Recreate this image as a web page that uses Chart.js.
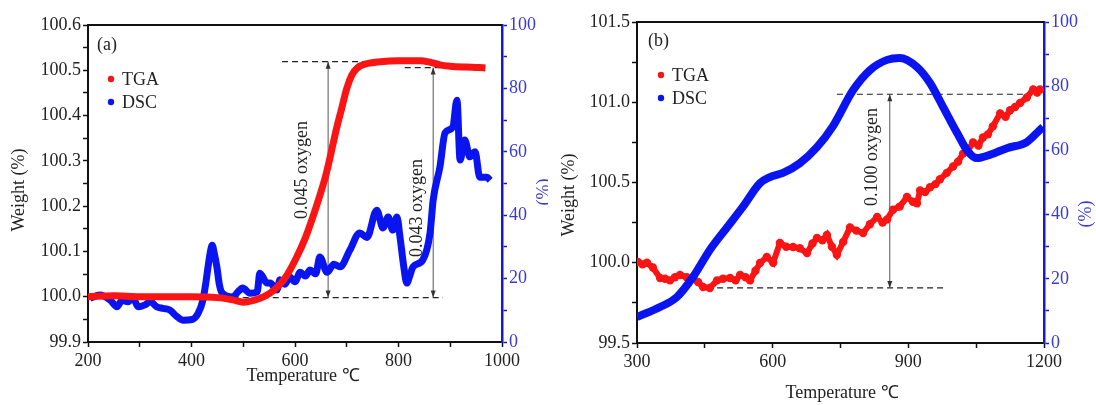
<!DOCTYPE html>
<html>
<head>
<meta charset="utf-8">
<script src="https://cdn.jsdelivr.net/npm/chart.js@4.4.0/dist/chart.umd.min.js"></script>
<style>
  body { margin: 0; background: #fff; }
  .panel { position: absolute; top: 0; width: 548px; height: 405px; }
</style>
</head>
<body>
<div class="panel" style="left:0"><canvas id="chartA" width="548" height="405"></canvas></div>
<div class="panel" style="left:548px"><canvas id="chartB" width="548" height="405"></canvas></div>
<script>
// panel (a) - TGA weight (%) vs temperature
var tempA_tga = [200, 250, 300, 350, 400, 450, 480, 500, 520, 540, 560, 580, 600, 620, 640, 660, 680, 690, 700, 710, 720, 740, 765, 800, 842, 860, 880, 900, 930, 955, 968];
var weightA = [100.0, 100.002, 100.0, 100.0, 100.0, 99.998, 99.993, 99.988, 99.992, 100.0, 100.015, 100.04, 100.08, 100.13, 100.195, 100.27, 100.37, 100.415, 100.46, 100.49, 100.505, 100.515, 100.519, 100.521, 100.521, 100.518, 100.512, 100.509, 100.507, 100.506, 100.505];

// panel (a) - DSC (%)
var tempA_dsc = [204, 223, 243, 256, 266, 277, 287, 297, 310, 320, 333, 345, 358, 372, 384, 401, 413, 422, 428, 432, 436, 440, 444, 449, 454, 459, 480, 490, 499, 513, 527, 532, 546, 552, 565, 571, 580, 590, 600, 610, 620, 629, 640, 648, 662, 675, 687, 706, 725, 739, 758, 770, 780, 789, 797, 803, 810, 816, 822, 828, 847, 861, 867, 880, 890, 905, 913, 919, 928, 938, 948, 957, 971, 977];
var dscA = [13.8, 14.8, 13.2, 11.1, 13.2, 12.7, 13.8, 11.1, 11.7, 12.7, 11.1, 10.6, 10.1, 8.0, 6.9, 7.1, 9.1, 13.2, 19.0, 23.7, 28.0, 30.5, 28.0, 23.7, 18.0, 15.5, 14.2, 15.9, 17.0, 15.4, 15.8, 21.7, 18.6, 18.6, 16.4, 19.6, 18.2, 20.5, 19.0, 22.0, 20.8, 22.7, 21.5, 26.8, 22.0, 24.5, 23.7, 29.0, 34.4, 33.0, 41.6, 36.0, 39.4, 35.3, 39.4, 33.0, 24.0, 18.6, 21.0, 23.7, 25.9, 34.4, 44.8, 55.2, 66.0, 67.8, 76.3, 57.4, 63.7, 58.4, 60.0, 52.0, 52.0, 51.0];

// panel (b) - TGA weight (%)
var tempB_tga = [302, 312, 322, 335, 351, 362, 373, 384, 395, 410, 424, 435, 446, 461, 477, 490, 506, 518, 528, 540, 550, 562, 572, 587, 601, 616, 630, 645, 660, 676, 688, 698, 710, 720, 731, 742, 756, 771, 785, 800, 815, 831, 843, 853, 866, 881, 897, 910, 919, 926, 937, 948, 960, 970, 985, 999, 1010, 1021, 1032, 1043, 1055, 1065, 1076, 1087, 1103, 1115, 1125, 1136, 1147, 1162, 1176, 1185, 1191];
var weightB = [100.005, 99.99, 100.0, 99.97, 99.905, 99.9, 99.89, 99.91, 99.924, 99.91, 99.905, 99.88, 99.849, 99.843, 99.89, 99.9, 99.905, 99.89, 99.924, 99.91, 99.89, 99.95, 99.998, 100.036, 100.0, 100.123, 100.1, 100.098, 100.09, 100.06, 100.12, 100.154, 100.14, 100.173, 100.1, 100.05, 100.13, 100.22, 100.2, 100.185, 100.24, 100.285, 100.25, 100.27, 100.33, 100.35, 100.41, 100.38, 100.37, 100.45, 100.44, 100.47, 100.49, 100.52, 100.56, 100.6, 100.63, 100.68, 100.7, 100.75, 100.73, 100.78, 100.8, 100.85, 100.93, 100.91, 100.95, 100.97, 100.995, 101.03, 101.08, 101.06, 101.08];

// panel (b) - DSC (%)
var tempB_dsc = [300, 351, 388, 424, 461, 499, 534, 572, 594, 623, 660, 698, 733, 778, 815, 853, 881, 919, 948, 977, 1008, 1030, 1052, 1080, 1118, 1162, 1191, 1198];
var dscB = [8.1, 11.2, 14.3, 20.6, 29.0, 36.0, 42.4, 49.8, 51.7, 53.0, 56.0, 61.0, 67.5, 78.8, 85.0, 88.2, 88.8, 86.0, 81.0, 73.5, 65.4, 60.0, 57.6, 58.6, 60.7, 62.6, 66.4, 67.3];

var RED = '#fa1414';
var BLUE = '#0a14f0';
var AXBLUE = '#1818d0';
var SERIF = "'Liberation Serif', 'Times New Roman', serif";

function pts(xs, ys) {
    return xs.map(function (v, i) { return { x: v, y: ys[i] }; });
}

var decor = {
    id: 'decor',
    beforeDatasetsDraw: function (chart, args, o) {
        var ctx = chart.ctx, x = chart.scales.x, y = chart.scales.y;
        ctx.save();
        ctx.strokeStyle = '#222';
        ctx.lineWidth = 1.2;
        ctx.setLineDash([6, 4]);
        o.dashed.forEach(function (d) {
            var py = y.getPixelForValue(d.y);
            ctx.beginPath();
            ctx.moveTo(x.getPixelForValue(d.x0), py);
            ctx.lineTo(x.getPixelForValue(d.x1), py);
            ctx.stroke();
        });
        ctx.setLineDash([]);
        ctx.strokeStyle = '#555';
        ctx.fillStyle = '#333';
        ctx.lineWidth = 1;
        o.arrows.forEach(function (a) {
            var px = x.getPixelForValue(a.x), p0 = y.getPixelForValue(a.y0), p1 = y.getPixelForValue(a.y1);
            ctx.beginPath();
            ctx.moveTo(px, p0);
            ctx.lineTo(px, p1);
            ctx.stroke();
            ctx.beginPath();
            ctx.moveTo(px, p0); ctx.lineTo(px - 2.5, p0 + 7); ctx.lineTo(px + 2.5, p0 + 7);
            ctx.closePath(); ctx.fill();
            ctx.beginPath();
            ctx.moveTo(px, p1); ctx.lineTo(px - 2.5, p1 - 7); ctx.lineTo(px + 2.5, p1 - 7);
            ctx.closePath(); ctx.fill();
        });
        ctx.restore();
    },
    afterDatasetsDraw: function (chart, args, o) {
        var ctx = chart.ctx, x = chart.scales.x, y = chart.scales.y, a = chart.chartArea;
        ctx.save();
        ctx.fillStyle = '#222';
        ctx.font = '18px ' + SERIF;
        ctx.textAlign = 'center';
        ctx.textBaseline = 'middle';
        o.notes.forEach(function (n) {
            ctx.save();
            ctx.translate(x.getPixelForValue(n.x), y.getPixelForValue(n.y));
            ctx.rotate(-Math.PI / 2);
            ctx.fillText(n.text, 0, 0);
            ctx.restore();
        });
        // top frame line
        ctx.strokeStyle = '#111';
        ctx.lineWidth = 2;
        ctx.beginPath();
        ctx.moveTo(a.left, a.top);
        ctx.lineTo(a.right, a.top);
        ctx.stroke();
        // panel tag and legend
        ctx.textAlign = 'left';
        ctx.fillText(o.tag, o.tagPos[0], o.tagPos[1]);
        o.legend.forEach(function (l, i) {
            var ly = o.legendPos[1] + i * 23;
            ctx.fillStyle = l.color;
            ctx.beginPath();
            ctx.arc(o.legendPos[0], ly, 3.2, 0, Math.PI * 2);
            ctx.fill();
            ctx.fillStyle = '#222';
            ctx.fillText(l.text, o.legendPos[0] + 11, ly + 1);
        });
        // axis titles
        ctx.textAlign = 'center';
        ctx.fillText('Temperature \u2103', o.xTitle[0], o.xTitle[1]);
        ctx.save();
        ctx.translate(o.yTitle[0], o.yTitle[1]);
        ctx.rotate(-Math.PI / 2);
        ctx.fillText('Weight (%)', 0, 0);
        ctx.restore();
        ctx.save();
        ctx.fillStyle = '#3a3ad0';
        ctx.translate(o.y2Title[0], o.y2Title[1]);
        ctx.rotate(-Math.PI / 2);
        ctx.fillText('(%)', 0, 0);
        ctx.restore();
        ctx.restore();
    }
};

function makeChart(id, cfg) {
    var tickFont = { family: SERIF, size: 18 };
    return new Chart(document.getElementById(id).getContext('2d'), {
        type: 'scatter',
        data: { datasets: cfg.datasets },
        options: {
            responsive: false,
            animation: false,
            layout: { padding: { top: cfg.top, left: 0, right: 0, bottom: 0 } },
            plugins: { legend: { display: false }, tooltip: { enabled: false }, decor: cfg.decor },
            scales: {
                x: {
                    type: 'linear', min: cfg.xMin, max: cfg.xMax,
                    afterFit: function (s) { s.height = cfg.xHeight; },
                    ticks: {
                        stepSize: cfg.xStep / 2, autoSkip: false, maxRotation: 0, padding: 3,
                        color: '#222', font: tickFont,
                        callback: function (v) { return (v - cfg.xMin) % cfg.xStep === 0 ? v : ''; }
                    },
                    grid: { drawOnChartArea: false, tickLength: 5, tickColor: '#111', tickWidth: 1.5 },
                    border: { color: '#111', width: 2 }
                },
                y: {
                    type: 'linear', position: 'left', min: cfg.yMin, max: cfg.yMax,
                    afterFit: function (s) { s.width = cfg.yWidth; },
                    ticks: {
                        stepSize: cfg.yStep / 2, autoSkip: false, padding: 2,
                        color: '#222', font: tickFont,
                        callback: function (v) {
                            var k = (v - cfg.yMin) / cfg.yStep;
                            return Math.abs(k - Math.round(k)) < 1e-6 ? v.toFixed(1) : '';
                        }
                    },
                    grid: { drawOnChartArea: false, tickLength: 5, tickColor: '#111', tickWidth: 1.5 },
                    border: { color: '#111', width: 2 }
                },
                y2: {
                    type: 'linear', position: 'right', min: 0, max: 100,
                    afterFit: function (s) { s.width = cfg.y2Width; },
                    ticks: {
                        stepSize: 10, autoSkip: false, padding: 2,
                        color: '#3a3ad0', font: tickFont,
                        callback: function (v) { return v % 20 === 0 ? v : ''; }
                    },
                    grid: { drawOnChartArea: false, tickLength: 5, tickColor: AXBLUE, tickWidth: 1.5 },
                    border: { color: AXBLUE, width: 2.5 }
                }
            }
        },
        plugins: [decor]
    });
}

makeChart('chartA', {
    top: 25, xHeight: 63, yWidth: 88, y2Width: 46,
    xMin: 200, xMax: 1000, xStep: 200,
    yMin: 99.9, yMax: 100.6, yStep: 0.1,
    datasets: [
        { label: 'TGA', data: pts(tempA_tga, weightA), yAxisID: 'y', showLine: true,
          borderColor: RED, borderWidth: 7, pointRadius: 0, cubicInterpolationMode: 'monotone' },
        { label: 'DSC', data: pts(tempA_dsc, dscA), yAxisID: 'y2', showLine: true,
          borderColor: BLUE, borderWidth: 7, pointRadius: 0, cubicInterpolationMode: 'monotone' }
    ],
    decor: {
        dashed: [{ x0: 575, x1: 790, y: 100.519 }, { x0: 812, x1: 940, y: 100.506 }, { x0: 441, x1: 886, y: 99.998 }],
        arrows: [{ x: 664, y0: 100.519, y1: 99.998 }, { x: 867, y0: 100.506, y1: 99.998 }],
        notes: [{ x: 615, y: 100.28, text: '0.045 oxygen' }, { x: 836, y: 100.196, text: '0.043 oxygen' }],
        tag: '(a)', tagPos: [97, 45],
        legend: [{ text: 'TGA', color: RED }, { text: 'DSC', color: BLUE }], legendPos: [111, 79],
        xTitle: [303, 376], yTitle: [19, 190], y2Title: [544, 192]
    }
});

makeChart('chartB', {
    top: 22, xHeight: 62, yWidth: 89, y2Width: 52,
    xMin: 300, xMax: 1200, xStep: 300,
    yMin: 99.5, yMax: 101.5, yStep: 0.5,
    datasets: [
        { label: 'DSC', data: pts(tempB_dsc, dscB), yAxisID: 'y2', showLine: true,
          borderColor: BLUE, borderWidth: 8, pointRadius: 0, cubicInterpolationMode: 'monotone' },
        { label: 'TGA', data: pts(tempB_tga, weightB), yAxisID: 'y', showLine: true,
          borderColor: RED, borderWidth: 6, pointRadius: 4.2, pointBackgroundColor: RED,
          pointBorderWidth: 0, tension: 0 }
    ],
    decor: {
        dashed: [{ x0: 742, x1: 1191, y: 101.05 }, { x0: 455, x1: 985, y: 99.843 }],
        arrows: [{ x: 859, y0: 101.05, y1: 99.843 }],
        notes: [{ x: 820, y: 100.659, text: '0.100 oxygen' }],
        tag: '(b)', tagPos: [100, 41],
        legend: [{ text: 'TGA', color: RED }, { text: 'DSC', color: BLUE }], legendPos: [113, 75],
        xTitle: [294, 393], yTitle: [21, 195], y2Title: [538, 214]
    }
});
</script>
</body>
</html>
